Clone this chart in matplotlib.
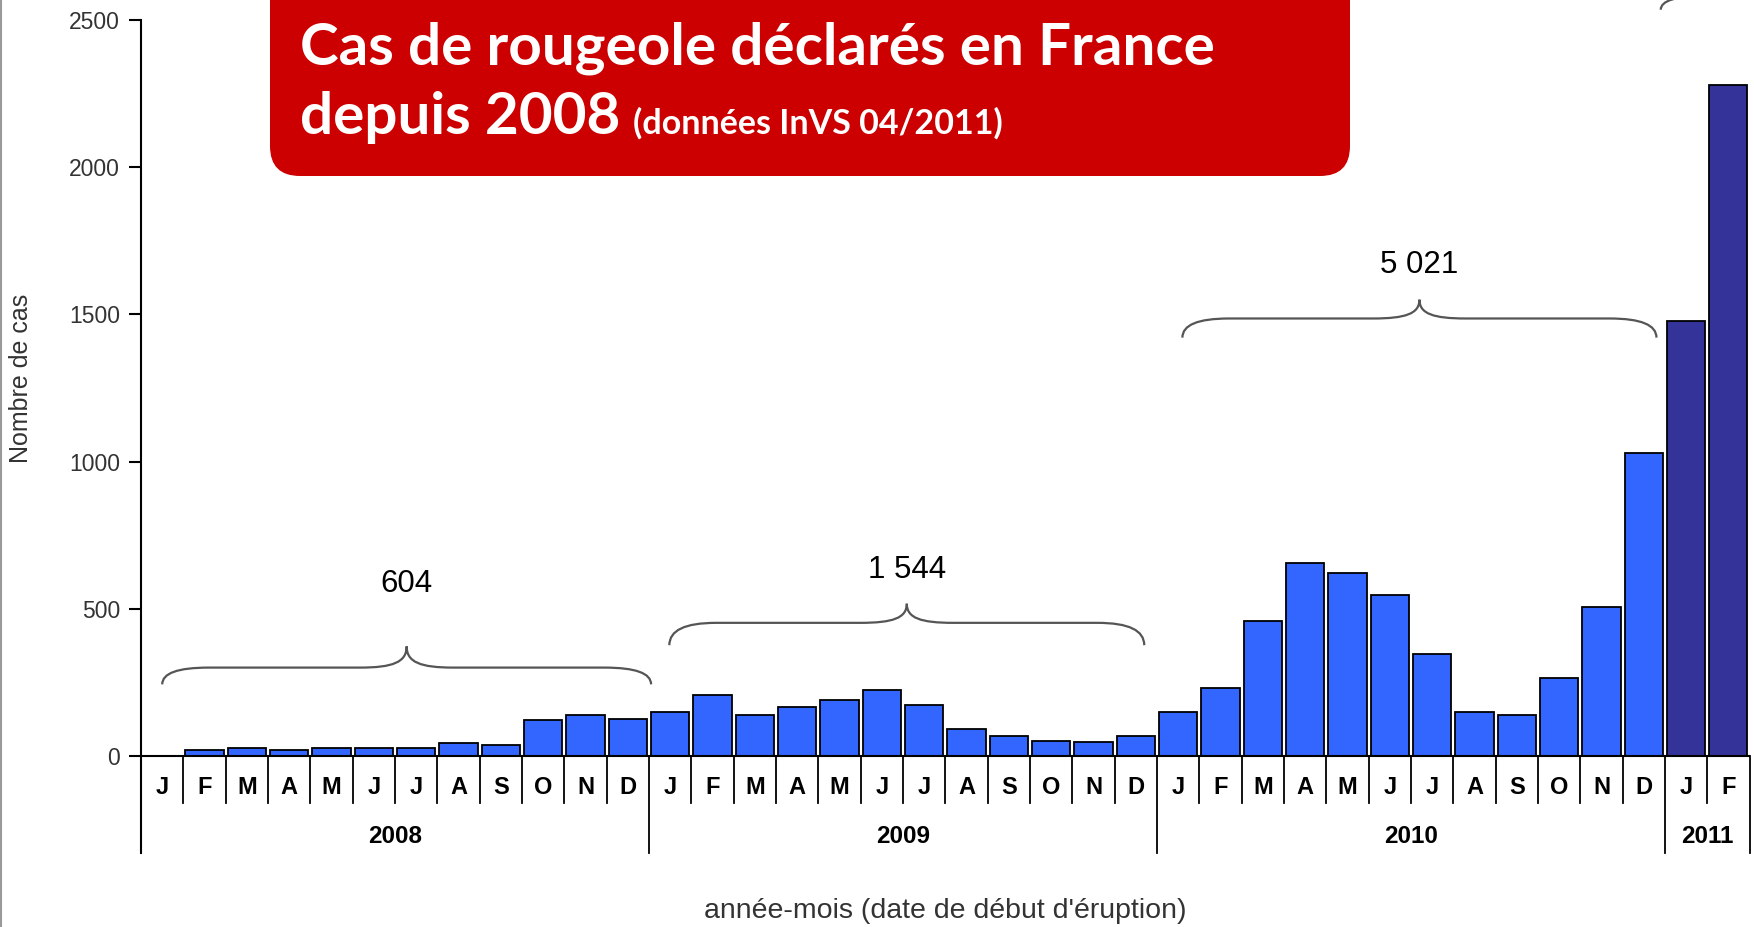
import numpy as np
import matplotlib
matplotlib.use("Agg")
import matplotlib.pyplot as plt
from matplotlib.patches import FancyBboxPatch, PathPatch
from matplotlib.path import Path

# monthly declared measles cases, France (InVS 04/2011)
month_labels = ["J", "F", "M", "A", "M", "J", "J", "A", "S", "O", "N", "D"]
years = ["2008", "2009", "2010", "2011"]
cases_2008 = [0, 21, 27, 21, 27, 27, 27, 44, 38, 123, 140, 124]
cases_2009 = [148, 206, 138, 167, 190, 224, 173, 93, 69, 52, 46, 69]
cases_2010 = [150, 230, 459, 656, 622, 546, 345, 150, 138, 264, 506, 1030]
cases_2011 = [1478, 2278]
year_totals = ["604", "1 544", "5 021"]

FONT = "Liberation Sans"
BLUE = "#3366FF"
NAVY = "#333399"
GREY = "#333333"


def brace(ax, x0, x1, y_end, y_flat, y_peak, r=1.1, **kw):
    xm = (x0 + x1) / 2
    dy = y_peak - y_flat
    verts = [
        (x0, y_end), (x0, y_flat), (x0 + r, y_flat),
        (xm - r, y_flat),
        (xm - 0.3 * r, y_flat), (xm, y_flat + 0.25 * dy), (xm, y_peak),
        (xm, y_flat + 0.25 * dy), (xm + 0.3 * r, y_flat), (xm + r, y_flat),
        (x1 - r, y_flat),
        (x1, y_flat), (x1, y_end),
    ]
    codes = [Path.MOVETO, Path.CURVE3, Path.CURVE3,
             Path.LINETO,
             Path.CURVE4, Path.CURVE4, Path.CURVE4,
             Path.CURVE4, Path.CURVE4, Path.CURVE4,
             Path.LINETO,
             Path.CURVE3, Path.CURVE3]
    ax.add_patch(PathPatch(Path(verts, codes), fill=False, **kw))


values = cases_2008 + cases_2009 + cases_2010 + cases_2011
n = len(values)
x = np.arange(n) + 0.5
colors = [BLUE] * 36 + [NAVY] * len(cases_2011)

fig = plt.figure(figsize=(17.54, 9.27), dpi=100)
ax = fig.add_axes([0.0804, 0.0798, 0.9171, 0.8986])

ax.bar(x, values, width=0.9, color=colors, edgecolor="black", linewidth=1.3, zorder=3)
ax.axhline(0, color="black", lw=1.5, zorder=4)

ax.set_xlim(0, n)
ax.set_ylim(-330, 2500)
for s in ["top", "right", "bottom"]:
    ax.spines[s].set_visible(False)
ax.spines["left"].set_linewidth(1.5)
ax.set_xticks([])
ax.set_yticks([0, 500, 1000, 1500, 2000, 2500])
ax.tick_params(axis="y", length=9, width=1.5, pad=6, labelsize=16.5, labelcolor=GREY)
for lbl in ax.get_yticklabels():
    lbl.set_family(FONT)
ax.set_ylabel("Nombre de cas", fontsize=18, family=FONT, color=GREY)
ax.yaxis.set_label_coords(-0.067, 0.57)

# month / year category axis
for i in range(n):
    ax.text(i + 0.5, -109, month_labels[i % 12], ha="center", va="center",
            fontsize=17, weight="bold", family=FONT)
for i in range(1, n):
    bottom = -330 if i % 12 == 0 else -160
    ax.plot([i, i], [0, bottom], color="black", lw=1.3, clip_on=False)
ax.plot([n, n], [0, -330], color="black", lw=1.3, clip_on=False)
for k, yr in enumerate(years):
    start = 12 * k
    end = min(12 * (k + 1), n)
    ax.text((start + end) / 2, -275, yr, ha="center", va="center",
            fontsize=17.5, weight="bold", family=FONT)

# yearly totals with braces
brace_spans = [(0.5, 12.05), (12.48, 23.7), (24.6, 35.8)]
brace_y = [(243, 300, 372), (376, 452, 517), (1421, 1486, 1550)]
label_y = [585, 631, 1668]
for (x0, x1), (ye, yf, yp), ly, txt in zip(brace_spans, brace_y, label_y, year_totals):
    brace(ax, x0, x1, ye, yf, yp, color="#555555", lw=1.6, zorder=5)
    ax.text((x0 + x1) / 2, ly, txt, ha="center", va="center", fontsize=22.5, family=FONT)
brace(ax, 35.9, 38.4, 2535, 2582, 2650, color="#555555", lw=1.6, zorder=5, clip_on=False)

ax.text(0.5, -0.07, "année-mois (date de début d'éruption)", transform=ax.transAxes,
        ha="center", va="center", fontsize=20.5, family=FONT, color=GREY)

# title banner in pixel coordinates
ov = fig.add_axes([0, 0, 1, 1], zorder=10)
ov.set_xlim(0, 1754)
ov.set_ylim(927, 0)
ov.axis("off")
ov.patch.set_alpha(0)
ov.add_patch(FancyBboxPatch((270, -40), 1080, 216, boxstyle="round,pad=0,rounding_size=30",
                            facecolor="#CC0000", edgecolor="none"))
ov.text(300, 64, "Cas de rougeole déclarés en France", fontsize=42, weight="bold",
        color="white", family="Lato", va="baseline")
ov.text(300, 134, "depuis 2008", fontsize=42, weight="bold", color="white",
        family="Lato", va="baseline")
ov.text(633, 134, "(données InVS 04/2011)", fontsize=24.5, weight="bold", color="white",
        family="Lato", va="baseline")
ov.plot([1, 1], [0, 927], color="#999999", lw=1.5)

fig.savefig("out.png", dpi=100)
